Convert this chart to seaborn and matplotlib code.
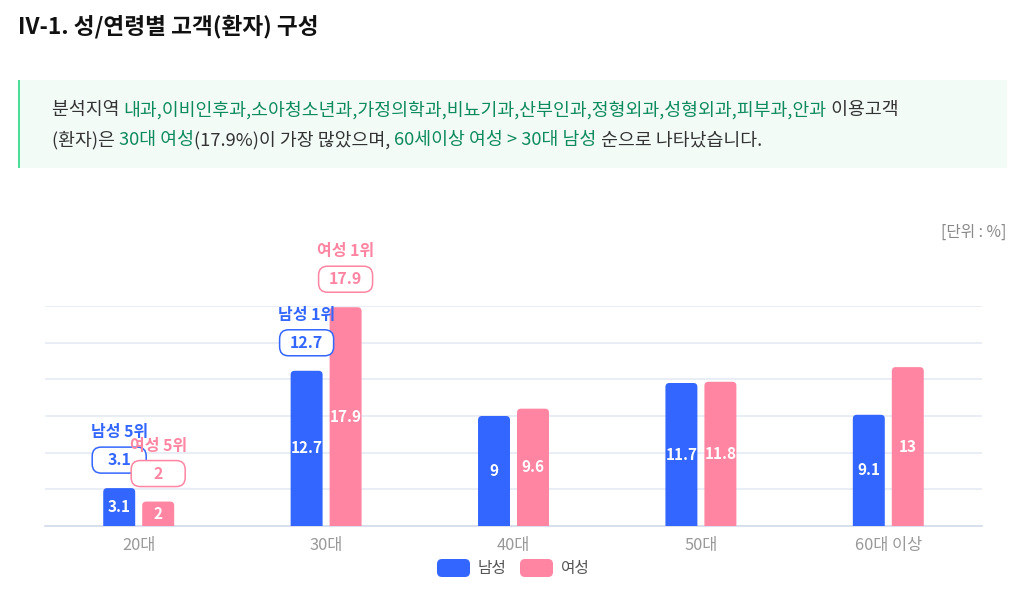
import matplotlib
matplotlib.use("Agg")
import matplotlib.pyplot as plt
from matplotlib.patches import FancyBboxPatch, Rectangle
import seaborn as sns
import pandas as pd

# data
ages = ["20대", "30대", "40대", "50대", "60대 이상"]
male = [3.1, 12.7, 9, 11.7, 9.1]
female = [2, 17.9, 9.6, 11.8, 13]
genders = ["남성", "여성"]
# rank callouts: (gender, category, label)
ranks = [("남성", "30대", "남성 1위"), ("여성", "30대", "여성 1위"),
         ("남성", "20대", "남성 5위"), ("여성", "20대", "여성 5위")]

BLUE = "#3366FF"
PINK = "#FF85A2"
GREEN = "#0E8A5F"
DARK = "#333333"

sns.set_theme(style="white")
plt.rcParams['font.family'] = ['Noto Sans CJK KR', 'DejaVu Sans']

df = pd.DataFrame({
    "age": ages * 2,
    "gender": ["남성"] * len(ages) + ["여성"] * len(ages),
    "value": male + female,
})

DPI = 100
fig = plt.figure(figsize=(10.3, 5.97), dpi=DPI)
W, H = 1030, 597


def px(x, y):
    # pixel position (from top-left) -> figure fraction
    return x / W, 1 - y / H


# title
fig.text(*px(18, 27), "IV-1. 성/연령별 고객(환자) 구성", fontsize=16.3,
         fontweight="bold", color="#111111", va="center", ha="left")

# summary box
fig.patches.append(Rectangle(px(18, 168), 989 / W, 88 / H, transform=fig.transFigure,
                             facecolor="#F3FBF7", edgecolor="none", zorder=0))
fig.patches.append(Rectangle(px(18, 168), 1.5 / W, 88 / H, transform=fig.transFigure,
                             facecolor="#4ADE9B", edgecolor="none", zorder=1))

renderer = fig.canvas.get_renderer()


def rich_line(x0, y0, parts, size=13.2):
    x = x0
    for txt, col in parts:
        t = fig.text(*px(x, y0), txt, fontsize=size, color=col, va="center", ha="left")
        bb = t.get_window_extent(renderer=renderer)
        x += bb.width


rich_line(52, 110, [("분석지역 ", DARK),
                    ("내과,이비인후과,소아청소년과,가정의학과,비뇨기과,산부인과,정형외과,성형외과,피부과,안과", GREEN),
                    (" 이용고객", DARK)])
rich_line(52, 140, [("(환자)은 ", DARK), ("30대 여성", GREEN), ("(17.9%)이 가장 많았으며, ", DARK),
                    ("60세이상 여성 > 30대 남성", GREEN), (" 순으로 나타났습니다.", DARK)])

fig.text(*px(1006, 232), "[단위 : %]", fontsize=11.3, color="#888888", ha="right", va="center")

# axes
ax = fig.add_axes([45 / W, 71 / H, 937 / W, 220 / H])
sns.barplot(data=df, x="age", y="value", hue="gender", order=ages, hue_order=genders,
            palette=[BLUE, PINK], width=0.416, gap=0.18, saturation=1,
            legend=False, ax=ax)
ax.set_ylim(0, 18)
ax.set_xlim(-0.5, len(ages) - 0.5)
ax.set_yticks(range(0, 19, 3))
ax.set_yticklabels([])
ax.tick_params(axis="y", length=0)
ax.grid(axis="y", color="#E3E8F3", linewidth=1.1)
ax.set_axisbelow(True)
for s in ["top", "right", "left"]:
    ax.spines[s].set_visible(False)
ax.spines["bottom"].set_color("#D5DCEB")
ax.set_xlabel("")
ax.set_ylabel("")
ax.set_xticks(range(len(ages)))
ax.set_xticklabels(ages, color="#999999", fontsize=11.8)
ax.tick_params(axis="x", length=0, pad=8)
ax.set_xticks([i - 0.5 for i in range(len(ages) + 1)], minor=True)
ax.tick_params(axis="x", which="minor", length=5, color="#D5DCEB", width=1)

# rounded bars
ux = 937 / (len(ages))       # px per x unit
uy = 220 / 18                # px per y unit
aspect = (1 / uy) / (1 / ux)
r = 4 / ux
bars = {}
for gi, cont in enumerate(ax.containers):
    for ci, rect in enumerate(cont.patches):
        x, w, h = rect.get_x(), rect.get_width(), rect.get_height()
        col = rect.get_facecolor()
        rect.set_visible(False)
        rb = FancyBboxPatch((x, -r * aspect), w, h + r * aspect,
                            boxstyle=f"round,pad=0,rounding_size={r}",
                            mutation_aspect=aspect, facecolor=col, edgecolor="none",
                            zorder=3)
        ax.add_patch(rb)
        bars[(genders[gi], ages[ci])] = (x + w / 2, h)
        ax.text(x + w / 2, h / 2, f"{h:g}", ha="center", va="center", color="white",
                fontsize=11, fontweight="bold", zorder=4)

# rank callouts
for g, a, lab in ranks:
    cx, v = bars[(g, a)]
    col = BLUE if g == "남성" else PINK
    dx, dy = ax.transData.transform((cx, v))
    bx, by = dx / DPI, dy / DPI + 28 / DPI
    box = FancyBboxPatch((bx - 0.27, by - 0.13), 0.54, 0.26,
                         boxstyle="round,pad=0,rounding_size=0.09",
                         transform=fig.dpi_scale_trans, facecolor="white",
                         edgecolor=col, linewidth=1.1, zorder=5)
    fig.patches.append(box)
    fig.text(bx, by, f"{v:g}", transform=fig.dpi_scale_trans, ha="center", va="center",
             color=col, fontsize=11.5, fontweight="bold", zorder=6)
    fig.text(bx, by + 0.28, lab, transform=fig.dpi_scale_trans, ha="center", va="center",
             color=col, fontsize=11.5, fontweight="bold", zorder=6)

# legend
for lx, g, col in [(437, "남성", BLUE), (520, "여성", PINK)]:
    fig.patches.append(FancyBboxPatch((lx / DPI, (H - 577) / DPI), 0.33, 0.18,
                                      boxstyle="round,pad=0,rounding_size=0.05",
                                      transform=fig.dpi_scale_trans, facecolor=col,
                                      edgecolor="none"))
    fig.text(*px(lx + 41, 568), g, fontsize=11.3, color="#555555", va="center", ha="left")

fig.savefig("out.png", dpi=DPI)
